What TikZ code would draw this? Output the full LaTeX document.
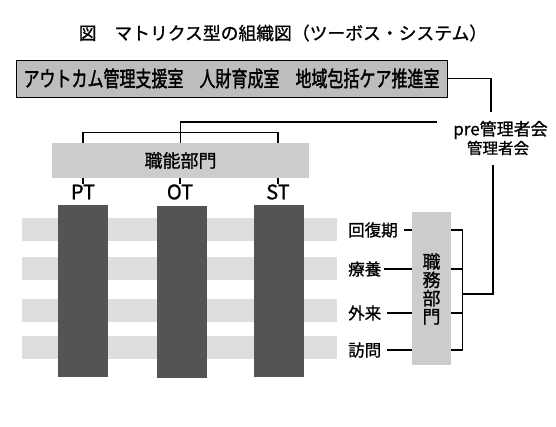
\documentclass[tikz,border=0pt]{standalone}
\usepackage{fontspec}
\setmainfont{Noto Sans CJK JP}[FakeBold=1.0]
\newfontfamily\boldjp{Noto Sans CJK JP}[FakeBold=1.8]
\newcommand\fsz[1]{\fontsize{#1}{#1}\selectfont}
\definecolor{topfill}{gray}{0.74}
\definecolor{kinofill}{gray}{0.80}
\definecolor{colfill}{gray}{0.33}
\definecolor{bandfill}{gray}{0.87}
\definecolor{mufill}{gray}{0.80}
\begin{document}
\begin{tikzpicture}[x=1pt,y=-1pt,
  conn/.style={draw=black,line width=1.3pt},
  topbox/.style={draw=black,line width=0.8pt,fill=topfill,inner sep=0pt},
  kinobox/.style={fill=kinofill,inner sep=0pt,font=\fsz{18}},
  colbox/.style={fill=colfill,inner sep=0pt,minimum width=50pt,minimum height=171pt},
  bandbox/.style={fill=bandfill,inner sep=0pt,minimum width=315pt,minimum height=23pt},
  mubox/.style={fill=mufill,inner sep=0pt,minimum width=39pt,minimum height=153pt},
  ptlbl/.style={inner sep=0pt,font=\fsz{20}},
  rowlbl/.style={anchor=west,inner sep=3pt,font=\fsz{16.5}}]
\useasboundingbox (0,0) rectangle (556,427);
% title
\node[font=\fsz{17.8}] (title) at (283,33) {図　マトリクス型の組織図（ツーボス・システム）};
% top box
\node[topbox,minimum width=431pt,minimum height=37pt] (top) at (231.5,78.5)
  {\resizebox{416pt}{\height}{\boldjp\fsz{21.5}アウトカム管理支援室　人財育成室　地域包括ケア推進室}};
% committee
\node[inner sep=0pt,font=\fsz{17}] (pre) at (500.5,130) {pre管理者会};
\node[inner sep=0pt,font=\fsz{15.5}] (kanri) at (498,148) {管理者会};
\coordinate (preN) at (491,112);
\coordinate (preW) at (437,122);
\coordinate (kaiS) at (493,165);
% bands
\node[bandbox] (b1) at (179.5,230) {};
\node[bandbox] (b2) at (179.5,268.5) {};
\node[bandbox] (b3) at (179.5,310.5) {};
\node[bandbox] (b4) at (179.5,347.5) {};
% functional dept
\node[kinobox,minimum width=257pt,minimum height=35pt] (kino) at (180.5,160.5) {職能部門};
\node[ptlbl] (lPT) at (83,192) {PT};
\node[ptlbl] (lOT) at (180,192) {OT};
\node[ptlbl] (lST) at (278,192) {ST};
\node[colbox] (cPT) at (83,291) {};
\node[colbox] (cOT) at (181.5,292) {};
\node[colbox] (cST) at (279,291) {};
% row labels
\node[rowlbl] (r1) at (345,230) {回復期};
\node[rowlbl] (r2) at (345,269) {療養};
\node[rowlbl] (r3) at (345,313) {外来};
\node[rowlbl] (r4) at (345,350) {訪問};
% job dept
\node[mubox] (mu) at (431.5,288.5) {};
\node[inner sep=0pt,align=center,font={\fontsize{18}{18.3}\selectfont}] (mutext) at (431.5,289)
  {職\\務\\部\\門};
\coordinate (bk) at (462,294);
% connectors
\draw[conn] (top.east) -| (preN);
\draw[conn] (preW) -| (kino.north);
\draw[conn] (kino.north -| lPT) -- ++(0,-10) -| (kino.north -| lST);
\draw[conn] (kino.south -| lPT) -- (lPT.north);
\draw[conn] (kino.south -| lOT) -- (lOT.north);
\draw[conn] (kino.south -| lST) -- (lST.north);
\draw[conn] ([xshift=3pt]r1.east) -- (r1.east -| mu.west);
\draw[conn] (r2.east) -- (r2.east -| mu.west);
\draw[conn] ([xshift=3pt]r3.east) -- (r3.east -| mu.west);
\draw[conn] ([xshift=3pt]r4.east) -- (r4.east -| mu.west);
\draw[conn] (mu.east |- r1) -- ++(11,0) |- (mu.east |- r4);
\draw[conn] (mu.east |- r2) -- ++(11,0);
\draw[conn] (mu.east |- r3) -- ++(11,0);
\draw[conn] (bk) -| (kaiS);
\end{tikzpicture}
\end{document}
